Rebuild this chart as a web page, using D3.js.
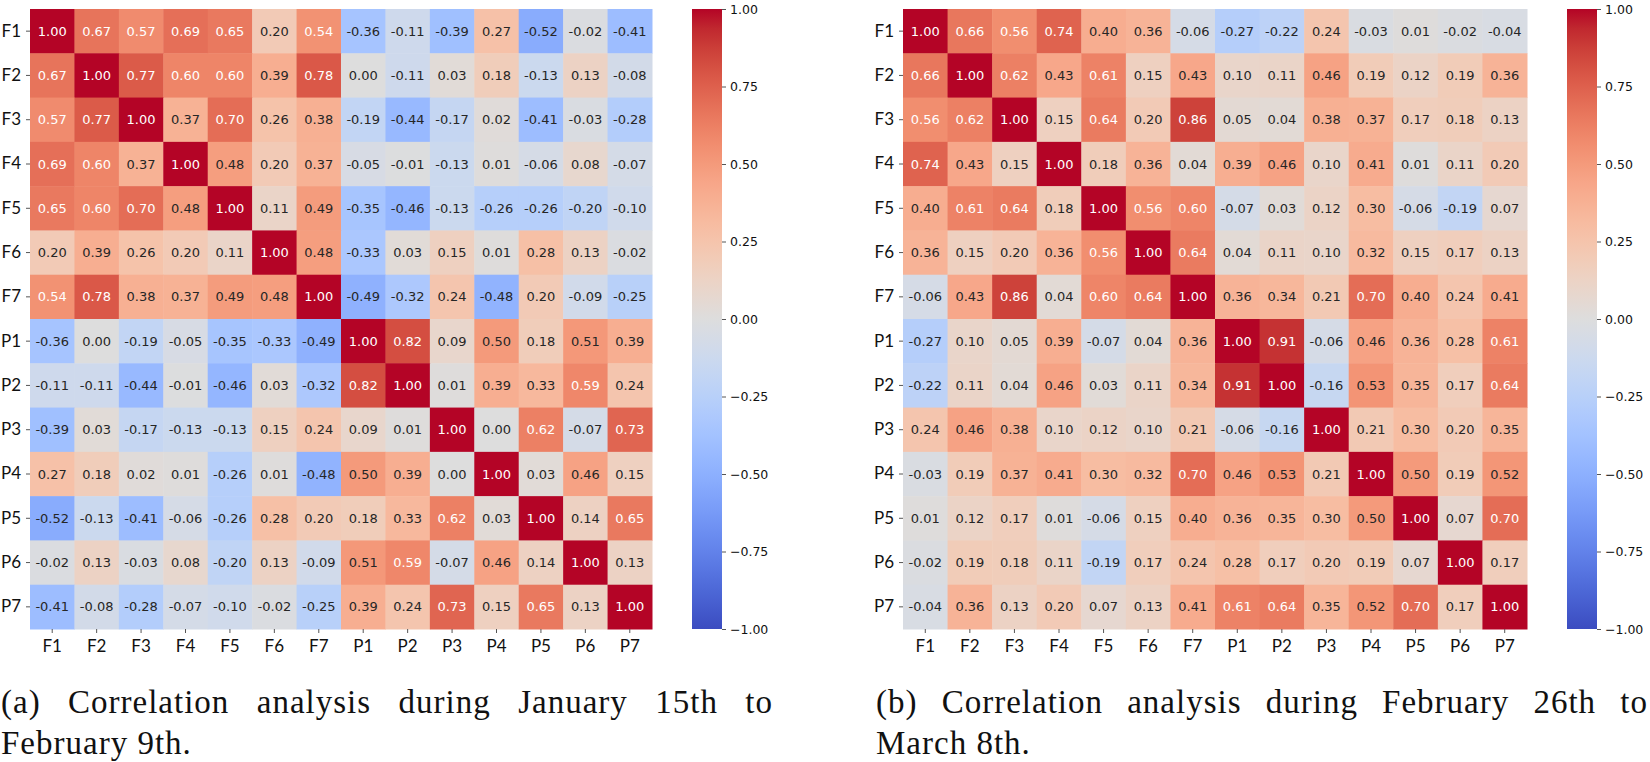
<!DOCTYPE html>
<html>
<head>
<meta charset="utf-8">
<script src="https://cdn.jsdelivr.net/npm/d3@7"></script>
<style>
  body { margin: 0; background: #fff; }
  svg { display: block; }
  .tick text { fill: #111; }
  .tick line { stroke: #555; }
  .caption text { font-family: "Liberation Serif", "DejaVu Serif", serif; }
</style>
</head>
<body>
<svg id="chart" width="1650" height="762"></svg>
<script>
// Variable labels (rows and columns are the same)
const labels = ['F1', 'F2', 'F3', 'F4', 'F5', 'F6', 'F7', 'P1', 'P2', 'P3', 'P4', 'P5', 'P6', 'P7'];

// (a) January 15th to February 9th
const matrixA = [
  [1.00, 0.67, 0.57, 0.69, 0.65, 0.20, 0.54, -0.36, -0.11, -0.39, 0.27, -0.52, -0.02, -0.41],
  [0.67, 1.00, 0.77, 0.60, 0.60, 0.39, 0.78, 0.00, -0.11, 0.03, 0.18, -0.13, 0.13, -0.08],
  [0.57, 0.77, 1.00, 0.37, 0.70, 0.26, 0.38, -0.19, -0.44, -0.17, 0.02, -0.41, -0.03, -0.28],
  [0.69, 0.60, 0.37, 1.00, 0.48, 0.20, 0.37, -0.05, -0.01, -0.13, 0.01, -0.06, 0.08, -0.07],
  [0.65, 0.60, 0.70, 0.48, 1.00, 0.11, 0.49, -0.35, -0.46, -0.13, -0.26, -0.26, -0.20, -0.10],
  [0.20, 0.39, 0.26, 0.20, 0.11, 1.00, 0.48, -0.33, 0.03, 0.15, 0.01, 0.28, 0.13, -0.02],
  [0.54, 0.78, 0.38, 0.37, 0.49, 0.48, 1.00, -0.49, -0.32, 0.24, -0.48, 0.20, -0.09, -0.25],
  [-0.36, 0.00, -0.19, -0.05, -0.35, -0.33, -0.49, 1.00, 0.82, 0.09, 0.50, 0.18, 0.51, 0.39],
  [-0.11, -0.11, -0.44, -0.01, -0.46, 0.03, -0.32, 0.82, 1.00, 0.01, 0.39, 0.33, 0.59, 0.24],
  [-0.39, 0.03, -0.17, -0.13, -0.13, 0.15, 0.24, 0.09, 0.01, 1.00, 0.00, 0.62, -0.07, 0.73],
  [0.27, 0.18, 0.02, 0.01, -0.26, 0.01, -0.48, 0.50, 0.39, 0.00, 1.00, 0.03, 0.46, 0.15],
  [-0.52, -0.13, -0.41, -0.06, -0.26, 0.28, 0.20, 0.18, 0.33, 0.62, 0.03, 1.00, 0.14, 0.65],
  [-0.02, 0.13, -0.03, 0.08, -0.20, 0.13, -0.09, 0.51, 0.59, -0.07, 0.46, 0.14, 1.00, 0.13],
  [-0.41, -0.08, -0.28, -0.07, -0.10, -0.02, -0.25, 0.39, 0.24, 0.73, 0.15, 0.65, 0.13, 1.00]
];

// (b) February 26th to March 8th
const matrixB = [
  [1.00, 0.66, 0.56, 0.74, 0.40, 0.36, -0.06, -0.27, -0.22, 0.24, -0.03, 0.01, -0.02, -0.04],
  [0.66, 1.00, 0.62, 0.43, 0.61, 0.15, 0.43, 0.10, 0.11, 0.46, 0.19, 0.12, 0.19, 0.36],
  [0.56, 0.62, 1.00, 0.15, 0.64, 0.20, 0.86, 0.05, 0.04, 0.38, 0.37, 0.17, 0.18, 0.13],
  [0.74, 0.43, 0.15, 1.00, 0.18, 0.36, 0.04, 0.39, 0.46, 0.10, 0.41, 0.01, 0.11, 0.20],
  [0.40, 0.61, 0.64, 0.18, 1.00, 0.56, 0.60, -0.07, 0.03, 0.12, 0.30, -0.06, -0.19, 0.07],
  [0.36, 0.15, 0.20, 0.36, 0.56, 1.00, 0.64, 0.04, 0.11, 0.10, 0.32, 0.15, 0.17, 0.13],
  [-0.06, 0.43, 0.86, 0.04, 0.60, 0.64, 1.00, 0.36, 0.34, 0.21, 0.70, 0.40, 0.24, 0.41],
  [-0.27, 0.10, 0.05, 0.39, -0.07, 0.04, 0.36, 1.00, 0.91, -0.06, 0.46, 0.36, 0.28, 0.61],
  [-0.22, 0.11, 0.04, 0.46, 0.03, 0.11, 0.34, 0.91, 1.00, -0.16, 0.53, 0.35, 0.17, 0.64],
  [0.24, 0.46, 0.38, 0.10, 0.12, 0.10, 0.21, -0.06, -0.16, 1.00, 0.21, 0.30, 0.20, 0.35],
  [-0.03, 0.19, 0.37, 0.41, 0.30, 0.32, 0.70, 0.46, 0.53, 0.21, 1.00, 0.50, 0.19, 0.52],
  [0.01, 0.12, 0.17, 0.01, -0.06, 0.15, 0.40, 0.36, 0.35, 0.30, 0.50, 1.00, 0.07, 0.70],
  [-0.02, 0.19, 0.18, 0.11, -0.19, 0.17, 0.24, 0.28, 0.17, 0.20, 0.19, 0.07, 1.00, 0.17],
  [-0.04, 0.36, 0.13, 0.20, 0.07, 0.13, 0.41, 0.61, 0.64, 0.35, 0.52, 0.70, 0.17, 1.00]
];

const colorbarTicks = [-1.00, -0.75, -0.50, -0.25, 0.00, 0.25, 0.50, 0.75, 1.00];

const captionA = ['(a) Correlation analysis during January 15th to', 'February 9th.'];
const captionB = ['(b) Correlation analysis during February 26th to', 'March 8th.'];

// coolwarm colormap stops (Moreland diverging map)
const coolwarm = [
  [59, 76, 192], [68, 90, 204], [77, 104, 215], [87, 117, 225], [98, 130, 234],
  [108, 142, 241], [119, 154, 247], [130, 165, 251], [141, 176, 254], [152, 185, 255],
  [163, 194, 255], [174, 201, 253], [184, 208, 249], [194, 213, 244], [204, 217, 238],
  [213, 219, 230], [221, 221, 221], [229, 216, 209], [236, 211, 197], [241, 204, 184],
  [245, 196, 172], [247, 187, 160], [247, 177, 148], [247, 166, 137], [244, 154, 123],
  [241, 141, 111], [236, 127, 99], [229, 112, 88], [222, 96, 77], [213, 80, 66],
  [203, 62, 56], [192, 40, 47], [180, 4, 38]
].map(c => d3.rgb(c[0], c[1], c[2]).formatHex());

const color = d3.scaleLinear()
  .domain(coolwarm.map((c, i) => -1 + 2 * i / (coolwarm.length - 1)))
  .range(coolwarm)
  .interpolate(d3.interpolateRgb)
  .clamp(true);

// seaborn picks annotation colour from the cell luminance
const textColor = (v) => {
  const c = d3.rgb(color(v));
  const lin = [c.r, c.g, c.b].map(x => {
    x = x / 255;
    return x <= 0.03928 ? x / 12.92 : Math.pow((x + 0.055) / 1.055, 2.4);
  });
  const lum = 0.2126 * lin[0] + 0.7152 * lin[1] + 0.0722 * lin[2];
  return lum > 0.408 ? '#262626' : '#ffffff';
};

// cells use a plain hyphen, the colorbar a true minus sign
const fmtCell = d3.formatLocale({ decimal: '.', thousands: ',', grouping: [3], currency: ['', ''], minus: '-' }).format('.2f');
const fmtBar = d3.format('.2f');

const svg = d3.select('#chart');

// gradient shared by both colorbars
const grad = svg.append('defs').append('linearGradient')
  .attr('id', 'cbgrad')
  .attr('x1', 0).attr('y1', 1).attr('x2', 0).attr('y2', 0);
grad.selectAll('stop')
  .data(coolwarm)
  .enter().append('stop')
  .attr('offset', (d, i) => i / (coolwarm.length - 1))
  .attr('stop-color', d => d);

const gridTop = 9;
const gridBottom = 629;

const drawPanel = (matrix, caption, opts) => {
  const g = svg.append('g');

  const x = d3.scaleBand().domain(labels).range([opts.x0, opts.x1]);
  const y = d3.scaleBand().domain(labels).range([gridTop, gridBottom]);

  const cells = [];
  matrix.forEach((row, i) => row.forEach((v, j) => cells.push({ r: labels[i], c: labels[j], v })));

  g.selectAll('rect.cell')
    .data(cells)
    .enter().append('rect')
    .attr('class', 'cell')
    .attr('x', d => x(d.c))
    .attr('y', d => y(d.r))
    .attr('width', x.bandwidth() + 0.5)
    .attr('height', y.bandwidth() + 0.5)
    .attr('fill', d => color(d.v));

  g.selectAll('text.val')
    .data(cells)
    .enter().append('text')
    .attr('class', 'val')
    .attr('x', d => x(d.c) + x.bandwidth() / 2)
    .attr('y', d => y(d.r) + y.bandwidth() / 2)
    .attr('dy', '0.35em')
    .attr('text-anchor', 'middle')
    .style('font-family', 'DejaVu Sans')
    .style('font-size', '13px')
    .attr('fill', d => textColor(d.v))
    .text(d => fmtCell(d.v));

  // axes
  const yAxis = g.append('g')
    .attr('transform', `translate(${opts.x0},0)`)
    .call(d3.axisLeft(y).tickSize(4).tickPadding(5));
  const xAxis = g.append('g')
    .attr('transform', `translate(0,${gridBottom})`)
    .call(d3.axisBottom(x).tickSize(4).tickPadding(7));
  [yAxis, xAxis].forEach(a => {
    a.select('.domain').remove();
    a.selectAll('text').style('font-family', 'Lato').style('font-size', '17px');
  });

  // colorbar
  const cb = d3.scaleLinear().domain([-1, 1]).range([gridBottom, gridTop]);
  g.append('rect')
    .attr('x', opts.cbX)
    .attr('y', gridTop)
    .attr('width', 30)
    .attr('height', gridBottom - gridTop)
    .attr('fill', 'url(#cbgrad)');
  const cbAxis = g.append('g')
    .attr('transform', `translate(${opts.cbX + 30},0)`)
    .call(d3.axisRight(cb).tickValues(colorbarTicks).tickFormat(fmtBar).tickSize(4).tickPadding(4));
  cbAxis.select('.domain').remove();
  cbAxis.selectAll('text').style('font-family', 'DejaVu Sans').style('font-size', '12.5px');

  // caption, first line justified like the LaTeX subcaption
  const cap = g.append('g')
    .attr('class', 'caption')
    .style('font-size', '33px')
    .style('letter-spacing', '1px')
    .attr('fill', '#111');
  const words = caption[0].split(' ');
  const nodes = words.map(w => cap.append('text').attr('y', 713).text(w));
  const widths = nodes.map(n => n.node().getComputedTextLength());
  const gap = (opts.capX1 - opts.capX0 - d3.sum(widths)) / (words.length - 1);
  let cx = opts.capX0;
  nodes.forEach((n, i) => { n.attr('x', cx); cx += widths[i] + gap; });
  cap.append('text').attr('x', opts.capX0).attr('y', 754).text(caption[1]);
};

drawPanel(matrixA, captionA, { x0: 30, x1: 652, cbX: 692, capX0: 1, capX1: 773 });
drawPanel(matrixB, captionB, { x0: 903, x1: 1527, cbX: 1567, capX0: 876, capX1: 1648 });
</script>
</body>
</html>
